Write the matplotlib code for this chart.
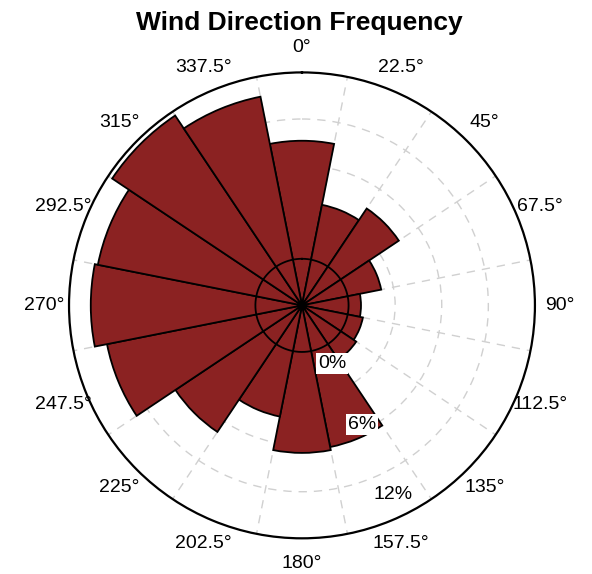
import numpy as np
import matplotlib
matplotlib.use("Agg")
import matplotlib.pyplot as plt

plt.rcParams['font.family'] = ['Liberation Sans', 'DejaVu Sans']

# Data: frequency (%) per 22.5 degree sector, compass degrees
directions = [0, 22.5, 45, 67.5, 90, 112.5, 135, 157.5,
              180, 202.5, 225, 247.5, 270, 292.5, 315, 337.5]
frequency = [7.6, 3.6, 4.5, 2.2, 0.8, 1.0, 1.2, 6.3,
             6.5, 4.3, 6.8, 9.8, 10.6, 10.4, 11.7, 10.7]
r_ticks = [0, 6, 12]
r_tick_labels = ["0%", "6%", "12%"]
dir_labels = [f"{d:g}°" for d in directions]

r_origin = -3   # value drawn at the centre
r_max = 12

fig = plt.figure(figsize=(5.92, 5.74), dpi=100)
ax = fig.add_axes([0.1166, 0.062, 0.787, 0.812], projection='polar')
ax.set_theta_zero_location('N')
ax.set_theta_direction(-1)
ax.set_ylim(r_origin, r_max)
ax.set_axisbelow(True)

theta = np.deg2rad(directions)
width = np.deg2rad(22.5)
vals = np.array(frequency)
ax.bar(theta, vals - r_origin, width=width, bottom=r_origin,
       color='#8B2222', edgecolor='black', linewidth=1.3, zorder=2)

# solid circle at 0 %
tt = np.linspace(0, 2 * np.pi, 300)
ax.plot(tt, np.zeros_like(tt), color='black', lw=1.3, zorder=3)

# grid
ax.set_rgrids([3, 6, 9], labels=[])
ax.yaxis.grid(True, color='#d0d0d0', linestyle=(0, (6, 5)), lw=1)
ax.set_xticks(theta)
ax.set_xticklabels(dir_labels, fontsize=14)
ax.set_xticks(theta + width / 2, minor=True)
ax.xaxis.grid(False, which='major')
ax.xaxis.grid(True, which='minor', color='#d0d0d0', linestyle=(0, (6, 5)), lw=1)
ax.tick_params(axis='x', which='both', length=0, pad=11)
ax.spines['polar'].set_linewidth(1.6)
ax.spines['polar'].set_color('black')

# radial labels
lab_pos = [(152.7, 1.2), (153.4, 5.6), (154.3, 10.5)]
for (ang, rr), txt in zip(lab_pos, r_tick_labels):
    ax.text(np.deg2rad(ang), rr, txt, fontsize=14, ha='center', va='center',
            zorder=4, bbox=dict(facecolor='white', edgecolor='none', pad=1.5))

fig.text(0.505, 0.96, "Wind Direction Frequency", ha='center', va='center',
         fontsize=19, fontweight='bold')

fig.savefig("out.png", dpi=100)
